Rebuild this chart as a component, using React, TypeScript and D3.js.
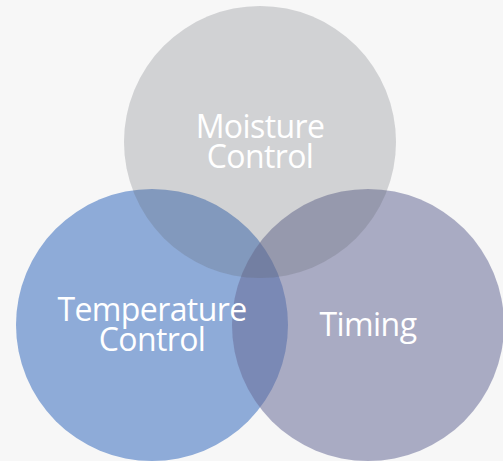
import { useEffect, useRef } from 'react'
import * as d3 from 'd3'

// three sets, drawn left, right, top
const setNames = ['Temperature Control', 'Timing', 'Moisture Control']
const setLines = [['Temperature', 'Control'], ['Timing'], ['Moisture', 'Control']]
const setColors = ['rgb(142,171,216)', 'rgb(106,110,153)', 'rgb(94,98,106)']
const setOpacity = [1, 0.55, 0.25]
// centres in a unit layout (x, y), equal radii
const setCx = [-1, 1, 0]
const setCy = [1, 1, -0.69]

const W = 503, H = 461

export default function App() {
  const svgRef = useRef<SVGSVGElement>(null)

  useEffect(() => {
    if (!svgRef.current) return
    const svg = d3.select(svgRef.current)
    svg.selectAll('*').remove()

    const x = d3.scaleLinear().domain([-1, 1]).range([152, 368])
    const y = d3.scaleLinear().domain([-0.69, 1]).range([142, 325])
    const r = 136

    svg.append('rect').attr('width', W).attr('height', H).attr('fill', '#f7f7f7')

    const data = setNames.map((name, i) => ({
      name, lines: setLines[i], color: setColors[i], op: setOpacity[i], cx: setCx[i], cy: setCy[i]
    }))

    svg.selectAll('circle.set').data(data).join('circle')
      .attr('class', 'set')
      .attr('cx', d => x(d.cx)).attr('cy', d => y(d.cy)).attr('r', r)
      .attr('fill', d => d.color).attr('fill-opacity', d => d.op)

    const lh = 29.5
    data.forEach(d => {
      const t = svg.append('text')
        .attr('x', x(d.cx)).attr('y', y(d.cy))
        .attr('text-anchor', 'middle')
        .attr('fill', '#ffffff')
        .attr('font-family', '"Open Sans", sans-serif')
        .attr('font-size', 32)
        .attr('letter-spacing', -0.6)
      const n = d.lines.length
      d.lines.forEach((line, j) => {
        t.append('tspan')
          .attr('x', x(d.cx))
          .attr('y', y(d.cy) + (j - (n - 1) / 2) * lh + 11)
          .text(line)
      })
    })
  }, [])

  return (
    <svg ref={svgRef} width={W} height={H}
      style={{ position: 'absolute', left: 0, top: 0, display: 'block' }} />
  )
}
